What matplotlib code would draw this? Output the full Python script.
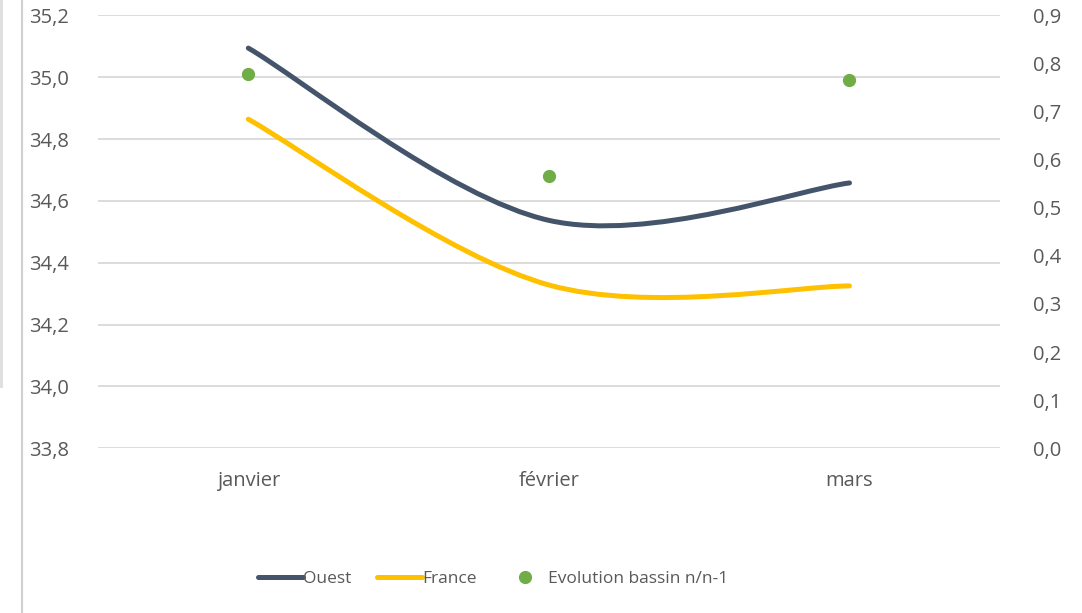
import matplotlib
matplotlib.use('Agg')
import matplotlib.pyplot as plt
from matplotlib.path import Path
from matplotlib.patches import PathPatch, Rectangle
from matplotlib.lines import Line2D
import numpy as np

# data
mois = ['janvier', 'février', 'mars']
ouest = [35.094, 34.537, 34.658]
france = [34.864, 34.328, 34.325]
evolution = [0.779, 0.567, 0.765]

c_ouest = '#44546A'
c_france = '#FFC000'
c_evol = '#70AD47'
c_text = '#595959'
c_grid = '#D9D9D9'

plt.rcParams['font.family'] = ['Open Sans', 'DejaVu Sans']


def smooth_path(xs, ys):
    # excel-like smoothed line: cubic bezier with catmull-rom control points
    pts = np.column_stack([xs, ys]).astype(float)
    n = len(pts)
    verts = [pts[0]]
    codes = [Path.MOVETO]
    for i in range(n - 1):
        p0 = pts[max(i - 1, 0)]
        p1 = pts[i]
        p2 = pts[i + 1]
        p3 = pts[min(i + 2, n - 1)]
        verts += [p1 + (p2 - p0) / 6., p2 - (p3 - p1) / 6., p2]
        codes += [Path.CURVE4] * 3
    return Path(verts, codes)


fig = plt.figure(figsize=(10.82, 6.13), dpi=100)
ax = fig.add_axes([0.0906, 0.2687, 0.8334, 0.7063])
ax2 = ax.twinx()

x = np.arange(len(mois))
for vals, col in [(ouest, c_ouest), (france, c_france)]:
    ax.add_patch(PathPatch(smooth_path(x, vals), facecolor='none', edgecolor=col,
                           lw=3.6, capstyle='round', zorder=3))
ax2.plot(x, evolution, 'o', color=c_evol, ms=8.5, zorder=4)

ax.set_xlim(-0.5, 2.5)
ax.set_ylim(33.8, 35.2)
ax2.set_ylim(0.0, 0.9)
ax.set_yticks(np.arange(33.8, 35.21, 0.2))
ax2.set_yticks(np.arange(0.0, 0.91, 0.1))
ax.set_yticklabels(['{:.1f}'.format(v).replace('.', ',') for v in np.arange(33.8, 35.21, 0.2)])
ax2.set_yticklabels(['{:.1f}'.format(v).replace('.', ',') for v in np.arange(0.0, 0.91, 0.1)])
ax.set_xticks(x)
ax.set_xticklabels(mois)

ax.grid(axis='y', color=c_grid, lw=1.3)
ax.set_axisbelow(True)
for a in (ax, ax2):
    for s in a.spines.values():
        s.set_visible(False)
    a.tick_params(length=0, labelsize=14.5, colors=c_text)
ax.tick_params(axis='y', pad=21)
ax2.tick_params(axis='y', pad=24)
ax.tick_params(axis='x', pad=16)

# excel squeezes the legend text, so a smaller size here
handles = [Line2D([], [], color=c_ouest, lw=3.6, solid_capstyle='round'),
           Line2D([], [], color=c_france, lw=3.6, solid_capstyle='round'),
           Line2D([], [], color=c_evol, marker='o', ls='none', ms=8.5)]
leg = fig.legend(handles, ['Ouest', 'France', 'Evolution bassin n/n-1'], loc='center',
                 bbox_to_anchor=(0.4556, 0.0555), ncol=3, frameon=False, fontsize=12.5,
                 handlelength=2.6, handletextpad=0.0, columnspacing=1.5)
for t in leg.get_texts():
    t.set_color(c_text)

# screenshot frame edges
fig.add_artist(Line2D([22 / 1082, 22 / 1082], [0, 1], color='#D0D0D0', lw=1.5))
fig.add_artist(Rectangle((0, 1 - 388 / 613), 3 / 1082, 388 / 613, color='#E0E0E0', lw=0))

fig.savefig('out.png', dpi=100)
